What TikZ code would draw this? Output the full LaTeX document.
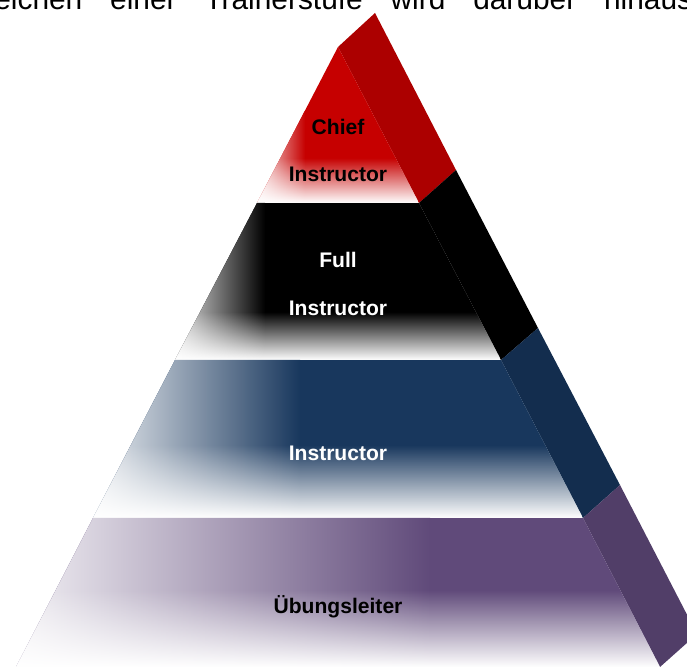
\documentclass[tikz,border=0pt]{standalone}
\usepackage{fontspec}
\setmainfont{Liberation Sans}
\usetikzlibrary{fadings}
\definecolor{redfront}{RGB}{198,0,0}
\definecolor{redside}{RGB}{172,0,0}
\definecolor{bluefront}{RGB}{24,55,93}
\definecolor{blueside}{RGB}{19,45,78}
\definecolor{purplefront}{RGB}{96,74,122}
\definecolor{purpleside}{RGB}{81,62,104}

\begin{document}
\begin{tikzpicture}[x=0.02cm, y=-0.02cm,
  tiertext/.style={font=\bfseries\fontsize{12}{14}\selectfont, inner sep=0pt}]
  \useasboundingbox (0,0) rectangle (687,668);

  \coordinate (top) at (338,47);
  \coordinate (apex) at (375,13);
  \coordinate (L1) at (257,203);
  \coordinate (R1) at (419,203);
  \coordinate (B1) at (456,170);
  \coordinate (L2) at (175,360);
  \coordinate (R2) at (501,360);
  \coordinate (B2) at (538,328);
  \coordinate (L3) at (93,518);
  \coordinate (R3) at (583,518);
  \coordinate (B3) at (620,485);
  \coordinate (L4) at (16,667);
  \coordinate (R4) at (660,667);
  \coordinate (B4) at (697,634);

  \fill[redside] (top) -- (apex) -- (B1) -- (R1) -- cycle;
  \fill[black] (R1) -- (B1) -- (B2) -- (R2) -- cycle;
  \fill[blueside] (R2) -- (B2) -- (B3) -- (R3) -- cycle;
  \fill[purpleside] (R3) -- (B3) -- (B4) -- (R4) -- cycle;

  \begin{scope}
    \clip (top) -- (L1) -- (R1) -- cycle;
    \fill[redfront] (L1) rectangle (R1 |- top);
    \shade[left color=redfront!12, right color=redfront] (L1) rectangle (305,47);
    \fill[white, path fading=north] (L1) rectangle (419,158);
  \end{scope}
  \begin{scope}
    \clip (L1) -- (L2) -- (R2) -- (R1) -- cycle;
    \fill[black] (L2) rectangle (R2 |- R1);
    \shade[left color=black!12, right color=black] (L2) rectangle (265,203);
    \fill[white, path fading=north] (L2) rectangle (501,312);
  \end{scope}
  \begin{scope}
    \clip (L2) -- (L3) -- (R3) -- (R2) -- cycle;
    \fill[bluefront] (L3) rectangle (R3 |- R2);
    \shade[left color=bluefront!8, right color=bluefront] (L3) rectangle (300,360);
    \fill[white, path fading=north] (L3) rectangle (583,445);
  \end{scope}
  \begin{scope}
    \clip (L3) -- (L4) -- (R4) -- (R3) -- cycle;
    \fill[purplefront] (L4) rectangle (R4 |- R3);
    \shade[left color=purplefront!8, right color=purplefront] (L4) rectangle (430,518);
    \fill[white, path fading=north] (L4) rectangle (660,590);
  \end{scope}

  \node[tiertext, text=black] (chief) at (338,127) {Chief};
  \node[tiertext, text=black] (chiefinstr) at (338,174) {Instructor};
  \node[tiertext, text=white] (full) at (338,260) {Full};
  \node[tiertext, text=white] (fullinstr) at (338,308) {Instructor};
  \node[tiertext, text=white] (instr) at (338,453) {Instructor};
  \node[tiertext, text=black] (uebung) at (338,607) {Übungsleiter};

  \node[anchor=base west, inner sep=0pt, font=\fontsize{17}{20}\selectfont] (intro) at (-6,10)
    {\makebox[13.96cm][s]{eichen einer Trainerstufe wird darüber hinaus}};
\end{tikzpicture}
\end{document}
